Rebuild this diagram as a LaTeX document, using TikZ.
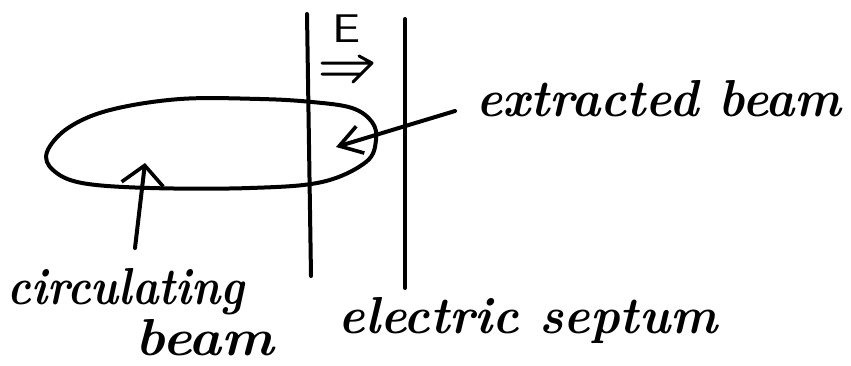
\documentclass[tikz,border=0pt]{standalone}
\usetikzlibrary{arrows.meta}
\begin{document}
\begin{tikzpicture}[x=1pt,y=-1pt,
  pen/.style={line width=4pt,line cap=round,line join=round},
  lbl/.style={font=\fontsize{52}{56}\selectfont\bfseries\itshape,inner sep=0pt},
  barb/.style={-{Straight Barb[length=19pt,width=42pt,line width=3.6pt]}}]
\useasboundingbox (0,0) rectangle (851,365);
% septum plates
\coordinate (p1t) at (307,14); \coordinate (p1b) at (311,276);
\coordinate (p2t) at (405,19); \coordinate (p2b) at (405,288);
\draw[pen] (p1t) -- (p1b);
\draw[pen] (p2t) -- (p2b);
% circulating beam orbit
\draw[pen] plot[smooth cycle,tension=0.6] coordinates {
 (47,152) (68,128) (110,110) (180,99) (260,99) (312,102) (352,108)
 (372,122) (376,140) (366,162) (322,182) (250,188) (150,188) (82,183) (53,170)};
% field label
\node[font=\fontsize{40}{40}\selectfont\sffamily,inner sep=0pt,xscale=1.25] (E) at (347,29) {E};
\coordinate (ea1) at (322,63); \coordinate (eb1) at (368,63);
\coordinate (ea2) at (322,74); \coordinate (eb2) at (361,74);
\coordinate (hw1) at (359,56); \coordinate (ht) at (372,63); \coordinate (hw2) at (353,82);
\draw[line width=3pt,line cap=round,line join=round] (ea1) -- (eb1) (ea2) -- (eb2) (hw1) -- (ht) -- (hw2);
% labels
\node[lbl,xscale=0.95] (ext) at (659,99) {extracted beam};
\node[lbl,xscale=0.86] (circ) at (126,292) {circulating};
\node[lbl,xscale=1.07] (beam) at (205,338) {beam};
\node[lbl,xscale=0.96] (sep) at (528,320) {electric septum};
% arrows
\coordinate (c0) at (135,248); \coordinate (c1) at (145,163);
\draw[pen,barb] (c0) -- (c1);
\coordinate (x0) at (455,111); \coordinate (x1) at (336,147);
\draw[pen,-{Straight Barb[length=22pt,width=28pt,line width=3.6pt]}] (x0) -- (x1);
\end{tikzpicture}
\end{document}
